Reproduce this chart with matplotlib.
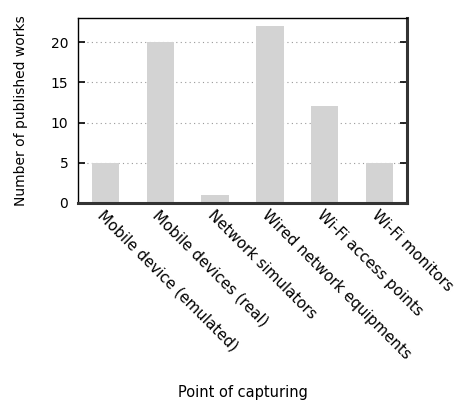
import numpy as np
import matplotlib.pyplot as plt

# datos
categorias = ["Mobile device (emulated)", "Mobile devices (real)", "Network simulators",
              "Wired network equipments", "Wi-Fi access points", "Wi-Fi monitors"]
trabajos = [5, 20, 1, 22, 12, 5]
ticks_y = [0, 5, 10, 15, 20]

fig = plt.figure(figsize=(4.56, 4.01), dpi=100)
ax = fig.add_axes([78 / 456, 1 - 203 / 401, 329 / 456, 185 / 401])

x = np.arange(len(categorias))
ax.bar(x, trabajos, width=0.5, color="#d3d3d3", zorder=2)

ax.set_xlim(-0.5, len(categorias) - 0.5)
ax.set_ylim(0, 23)
ax.set_yticks(ticks_y)
ax.set_xticks(x)
ax.set_xticklabels(categorias, rotation=-45, ha="left", va="top",
                   rotation_mode="anchor", fontsize=10.8)
ax.tick_params(axis="y", labelsize=10, direction="in", right=True, length=5,
               width=1.2, pad=7)
ax.tick_params(axis="x", length=0, pad=3.5)

ax.grid(axis="y", linestyle=(0, (1, 3)), color="#999999", linewidth=0.8, zorder=1)
# estilo gnuplot: arriba/izquierda finos, derecha/abajo gruesos
ax.spines["top"].set_linewidth(1.0)
ax.spines["left"].set_linewidth(1.0)
ax.spines["top"].set_color("black")
ax.spines["left"].set_color("black")
ax.spines["right"].set_linewidth(2.2)
ax.spines["bottom"].set_linewidth(2.2)
ax.spines["right"].set_color("#333333")
ax.spines["bottom"].set_color("#333333")

ax.set_ylabel("Number of published works", fontsize=10, labelpad=16)
ax.set_xlabel("Point of capturing", fontsize=10.5)
ax.xaxis.set_label_coords(0.5, -0.984)

fig.savefig("out.png", dpi=100)
